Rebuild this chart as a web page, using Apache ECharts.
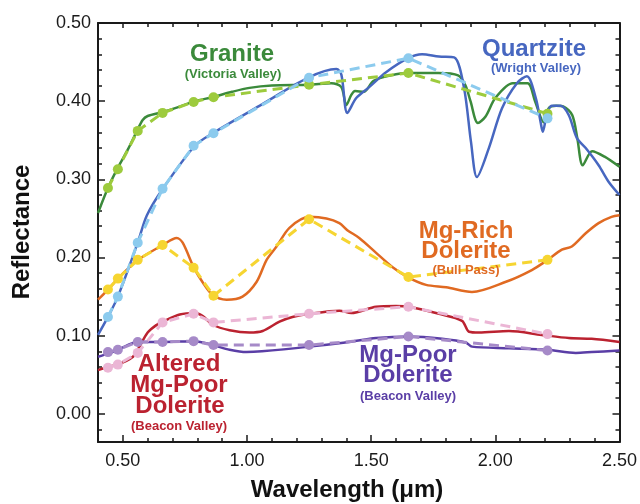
<!DOCTYPE html>
<html>
<head>
<meta charset="utf-8">
<script src="https://cdn.jsdelivr.net/npm/echarts@6/dist/echarts.min.js"></script>
<style>
  html, body { margin: 0; padding: 0; background: #fff; }
  #chart { width: 640px; height: 504px; }
</style>
</head>
<body>
<div id="chart"></div>
<script>
// Reflectance spectra (wavelength in µm, reflectance)
const granite = [[0.40,0.257],[0.44,0.289],[0.48,0.315],[0.52,0.338],[0.557,0.362],[0.58,0.376],[0.60,0.381],[0.66,0.386],[0.72,0.392],[0.79,0.400],[0.86,0.405],[0.94,0.412],[1.01,0.417],[1.10,0.420],[1.25,0.421],[1.34,0.423],[1.38,0.418],[1.40,0.395],[1.42,0.408],[1.435,0.413],[1.47,0.412],[1.51,0.426],[1.58,0.433],[1.65,0.436],[1.77,0.436],[1.85,0.433],[1.88,0.420],[1.90,0.400],[1.93,0.372],[1.96,0.380],[2.00,0.404],[2.07,0.423],[2.13,0.423],[2.16,0.400],[2.195,0.373],[2.215,0.391],[2.245,0.394],[2.275,0.393],[2.31,0.382],[2.33,0.353],[2.352,0.318],[2.39,0.336],[2.44,0.329],[2.50,0.316]];
const quartzite = [[0.40,0.101],[0.44,0.124],[0.48,0.150],[0.56,0.219],[0.597,0.254],[0.661,0.288],[0.79,0.343],[0.862,0.359],[1.05,0.394],[1.247,0.430],[1.36,0.441],[1.38,0.434],[1.404,0.385],[1.44,0.404],[1.492,0.418],[1.56,0.437],[1.649,0.455],[1.705,0.460],[1.773,0.457],[1.834,0.456],[1.874,0.417],[1.902,0.348],[1.926,0.303],[1.974,0.340],[2.027,0.391],[2.087,0.423],[2.127,0.432],[2.163,0.404],[2.183,0.372],[2.191,0.361],[2.207,0.382],[2.227,0.394],[2.263,0.394],[2.296,0.382],[2.328,0.353],[2.364,0.340],[2.416,0.318],[2.456,0.297],[2.50,0.280]];
const mgRich = [[0.40,0.146],[0.44,0.159],[0.48,0.173],[0.528,0.188],[0.56,0.197],[0.661,0.216],[0.717,0.225],[0.741,0.219],[0.786,0.187],[0.822,0.168],[0.862,0.152],[0.918,0.146],[0.982,0.150],[1.039,0.169],[1.079,0.197],[1.119,0.214],[1.171,0.238],[1.251,0.252],[1.32,0.250],[1.372,0.244],[1.404,0.235],[1.452,0.225],[1.52,0.206],[1.585,0.188],[1.653,0.174],[1.721,0.165],[1.802,0.162],[1.906,0.156],[2.043,0.169],[2.147,0.184],[2.211,0.197],[2.268,0.210],[2.308,0.214],[2.364,0.231],[2.416,0.244],[2.468,0.252],[2.50,0.254]];
const alteredMgPoor = [[0.40,0.056],[0.44,0.060],[0.48,0.063],[0.537,0.072],[0.56,0.082],[0.60,0.104],[0.637,0.114],[0.661,0.118],[0.729,0.127],[0.79,0.129],[0.822,0.125],[0.862,0.114],[0.93,0.107],[1.01,0.104],[1.063,0.106],[1.131,0.118],[1.183,0.124],[1.251,0.128],[1.372,0.132],[1.42,0.129],[1.52,0.137],[1.60,0.138],[1.653,0.137],[1.773,0.128],[1.866,0.119],[1.894,0.105],[1.934,0.104],[2.055,0.106],[2.187,0.101],[2.296,0.097],[2.388,0.096],[2.50,0.092]];
const mgPoor = [[0.40,0.073],[0.44,0.077],[0.48,0.082],[0.56,0.092],[0.609,0.092],[0.665,0.092],[0.79,0.093],[0.862,0.088],[0.93,0.082],[0.998,0.079],[1.06,0.080],[1.251,0.086],[1.412,0.092],[1.52,0.097],[1.653,0.099],[1.786,0.096],[1.882,0.091],[1.906,0.086],[2.055,0.084],[2.211,0.082],[2.324,0.078],[2.388,0.079],[2.50,0.081]];

// Band-averaged reflectance at the sensor band centres
const bandCenters = [0.44, 0.48, 0.56, 0.66, 0.785, 0.865, 1.25, 1.65, 2.21];
const graniteBands = [0.289, 0.313, 0.362, 0.385, 0.399, 0.405, 0.421, 0.436, 0.384];
const quartziteBands = [0.124, 0.150, 0.219, 0.288, 0.343, 0.359, 0.430, 0.455, 0.378];
const mgRichBands = [0.159, 0.173, 0.197, 0.216, 0.187, 0.151, 0.249, 0.175, 0.197];
const alteredBands = [0.059, 0.063, 0.078, 0.117, 0.128, 0.117, 0.128, 0.137, 0.102];
const mgPoorBands = [0.079, 0.082, 0.092, 0.092, 0.093, 0.088, 0.088, 0.099, 0.081];

// Axis ticks
const xMajorTicks = [0.5, 1.0, 1.5, 2.0, 2.5];
const xMinorTicks = [0.4, 0.6, 0.7, 0.8, 0.9, 1.1, 1.2, 1.3, 1.4, 1.6, 1.7, 1.8, 1.9, 2.1, 2.2, 2.3, 2.4];
const yMajorTicks = [0.0, 0.1, 0.2, 0.3, 0.4, 0.5];
const yMinorTicks = [-0.02, 0.02, 0.04, 0.06, 0.08, 0.12, 0.14, 0.16, 0.18, 0.22, 0.24, 0.26, 0.28, 0.32, 0.34, 0.36, 0.38, 0.42, 0.44, 0.46, 0.48];

const FONT = '"Liberation Sans", Arial, Helvetica, sans-serif';
const AXIS_COLOR = '#1a1a1a';
const X_MIN = 0.4, X_MAX = 2.5, Y_MIN = -0.036, Y_MAX = 0.5;

function pairs(xs, ys) { return xs.map((x, i) => [x, ys[i]]); }

function xAxisDef(position, ticks, len, labels, showLine) {
  return {
    type: 'value', position: position, min: X_MIN, max: X_MAX,
    splitLine: { show: false },
    axisLine: { show: showLine, onZero: false, lineStyle: { color: AXIS_COLOR, width: 2 } },
    axisTick: { show: true, inside: true, length: len, customValues: ticks, lineStyle: { color: AXIS_COLOR, width: 1.5 } },
    axisLabel: labels ? { show: true, customValues: xMajorTicks, formatter: v => v.toFixed(2), fontFamily: FONT, fontSize: 18, color: '#1a1a1a', margin: 10 } : { show: false }
  };
}
function yAxisDef(position, ticks, len, labels, showLine) {
  return {
    type: 'value', position: position, min: Y_MIN, max: Y_MAX,
    splitLine: { show: false },
    axisLine: { show: showLine, onZero: false, lineStyle: { color: AXIS_COLOR, width: 2 } },
    axisTick: { show: true, inside: true, length: len, customValues: ticks, lineStyle: { color: AXIS_COLOR, width: 1.5 } },
    axisLabel: labels ? { show: true, customValues: yMajorTicks, formatter: v => v.toFixed(2), fontFamily: FONT, fontSize: 18, color: '#1a1a1a', margin: 7 } : { show: false }
  };
}

function spectrum(name, data, color) {
  return { name: name, type: 'line', data: data, smooth: 0.3, showSymbol: false, symbol: 'none',
    lineStyle: { color: color, width: 2.5 }, z: 2, silent: true, animation: false };
}
function bands(name, ys, color) {
  return { name: name, type: 'line', data: pairs(bandCenters, ys), smooth: false,
    symbol: 'circle', symbolSize: 10, showSymbol: true,
    itemStyle: { color: color, borderWidth: 0 },
    lineStyle: { color: color, width: 3, type: [10, 6] }, z: 3, silent: true, animation: false };
}

function label(text, cx, cy, size, color, bold) {
  return { type: 'text', x: cx, y: cy, z: 10,
    style: { text: text, fill: color, font: (bold ? 'bold ' : '') + size + 'px ' + FONT, align: 'center', verticalAlign: 'middle' } };
}

const C = {
  granite: '#3b8a3b', graniteB: '#9dcb3d',
  quartz: '#4767c0', quartzB: '#8ccbee',
  rich: '#e06a22', richB: '#f6d531',
  altered: '#bb2230', alteredB: '#ebb6d5',
  poor: '#5a3ea6', poorB: '#a68ac8'
};

const chart = echarts.init(document.getElementById('chart'), null, { renderer: 'canvas' });
chart.setOption({
  animation: false,
  backgroundColor: '#ffffff',
  grid: { left: 98, right: 20, top: 23, bottom: 62, containLabel: false },
  xAxis: [
    xAxisDef('bottom', xMajorTicks, 7, true, true),
    xAxisDef('bottom', xMinorTicks, 4, false, false),
    xAxisDef('top', xMajorTicks, 5, false, true),
    xAxisDef('top', xMinorTicks, 4, false, false)
  ],
  yAxis: [
    yAxisDef('left', yMajorTicks, 7, true, true),
    yAxisDef('left', yMinorTicks, 4, false, false),
    yAxisDef('right', yMajorTicks, 7, false, true),
    yAxisDef('right', yMinorTicks, 4, false, false)
  ],
  series: [
    spectrum('Granite', granite, C.granite),
    spectrum('Quartzite', quartzite, C.quartz),
    spectrum('Mg-Rich Dolerite', mgRich, C.rich),
    spectrum('Altered Mg-Poor Dolerite', alteredMgPoor, C.altered),
    spectrum('Mg-Poor Dolerite', mgPoor, C.poor),
    bands('Granite bands', graniteBands, C.graniteB),
    bands('Quartzite bands', quartziteBands, C.quartzB),
    bands('Mg-Rich Dolerite bands', mgRichBands, C.richB),
    bands('Altered Mg-Poor Dolerite bands', alteredBands, C.alteredB),
    bands('Mg-Poor Dolerite bands', mgPoorBands, C.poorB)
  ],
  graphic: [
    label('Granite', 232, 54, 24, C.granite, true),
    label('(Victoria Valley)', 233, 74, 13, C.granite, true),
    label('Quartzite', 534, 49, 24, C.quartz, true),
    label('(Wright Valley)', 536, 68, 13, C.quartz, true),
    label('Mg-Rich', 466, 231, 24, C.rich, true),
    label('Dolerite', 466, 251, 24, C.rich, true),
    label('(Bull Pass)', 466, 270, 13, C.rich, true),
    label('Altered', 179, 364, 24, C.altered, true),
    label('Mg-Poor', 179, 385, 24, C.altered, true),
    label('Dolerite', 180, 406, 24, C.altered, true),
    label('(Beacon Valley)', 179, 426, 13, C.altered, true),
    label('Mg-Poor', 408, 355, 24, C.poor, true),
    label('Dolerite', 408, 375, 24, C.poor, true),
    label('(Beacon Valley)', 408, 396, 13, C.poor, true),
    { type: 'text', x: 22, y: 232, rotation: Math.PI / 2, z: 10,
      style: { text: 'Reflectance', fill: '#111', font: 'bold 24px ' + FONT, align: 'center', verticalAlign: 'middle' } },
    label('Wavelength (μm)', 347, 490, 24, '#111', true)
  ]
});
</script>
</body>
</html>
